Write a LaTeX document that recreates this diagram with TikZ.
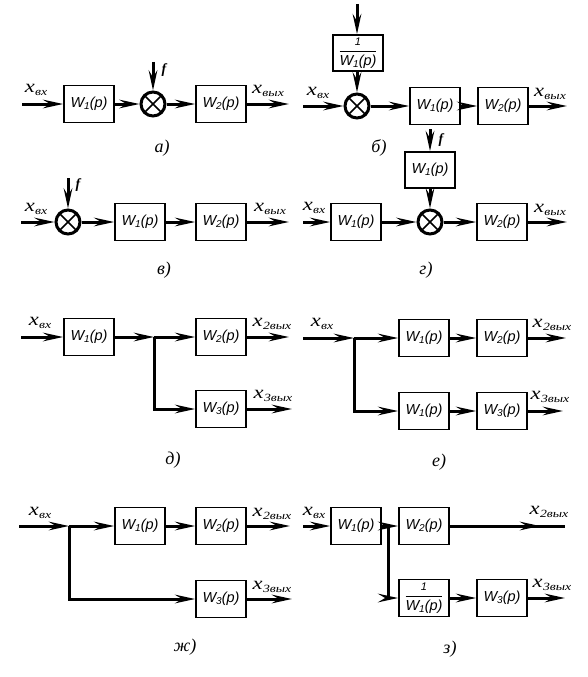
\documentclass[tikz,border=0pt]{standalone}
\usepackage{amsmath}
\usepackage{fontspec}
\setmainfont{Liberation Serif}
\newfontfamily\wfont{Liberation Sans}
\usetikzlibrary{arrows.meta}
\newcommand\xsig[1]{\scalebox{1.25}[1]{\fontsize{18}{18}\selectfont\textit{x}\kern0.3pt\raisebox{-2.5pt}{\fontsize{11}{11}\selectfont\textit{#1}}}}
\newcommand\Wb[1]{{\wfont\itshape W\raisebox{-2pt}{\fontsize{10}{9}\selectfont #1}(p)}}
\newcommand\invW{$\dfrac{\text{\wfont\itshape\fontsize{11}{12}\selectfont 1}}{\text{\Wb{1}}}$}
\tikzset{
  blk/.style={draw, line width=1.6pt, minimum width=50pt, minimum height=37pt, inner sep=0pt, font=\fontsize{14.5}{15}\selectfont},
  sumj/.style={circle, draw, line width=3pt, minimum size=24pt, inner sep=0pt,
    path picture={\draw[line width=1.7pt] (path picture bounding box.north west) -- (path picture bounding box.south east)
      (path picture bounding box.north east) -- (path picture bounding box.south west);}},
  sig/.style={line width=3pt, -{Stealth[length=20pt,width=8.5pt,inset=7pt]}},
  wire/.style={line width=3pt},
  lbl/.style={inner sep=0pt},
  ftxt/.style={inner sep=0pt, font=\fontsize{14}{14}\selectfont\itshape\bfseries},
  captxt/.style={inner sep=0pt, font=\fontsize{18}{18}\selectfont\itshape}
}
\begin{document}
\begin{tikzpicture}[x=1pt,y=-1pt]
\fill[white] (0,0) rectangle (588,677);
\useasboundingbox (0,0) rectangle (588,677);

% ---------- a) ----------
\coordinate (a_in) at (22,104);
\node[lbl] (a_lin) at (36,90) {\xsig{вх}};
\node[blk] (a_w1) at (89,104) {\Wb{1}};
\node[sumj] (a_s) at (153,104) {};
\coordinate (a_f) at (153,62);
\node[ftxt] (a_lf) at (164,70) {f};
\node[blk] (a_w2) at (221,104) {\Wb{2}};
\coordinate (a_out) at (289,104);
\node[lbl] (a_lout) at (268,91) {\xsig{вых}};
\node[captxt] (a_cap) at (162,148) {а)};
\draw[sig] (a_in) -- (a_w1);
\draw[sig] (a_w1) -- (a_s);
\draw[sig] (a_f) -- (a_s);
\draw[sig] (a_s) -- (a_w2);
\draw[sig] (a_w2) -- (a_out);

% ---------- б) ----------
\coordinate (b_in) at (303,106);
\node[lbl] (b_lin) at (318,93) {\xsig{вх}};
\node[sumj] (b_s) at (357,106) {};
\node[blk, minimum height=36pt] (b_inv) at (358,53) {\invW};
\coordinate (b_top) at (357,4);
\node[blk] (b_w1) at (435,106) {\Wb{1}};
\node[blk] (b_w2) at (503,106) {\Wb{2}};
\coordinate (b_out) at (567,106);
\node[lbl] (b_lout) at (550,94) {\xsig{вых}};
\node[captxt] (b_cap) at (379,148) {б)};
\draw[sig] (b_top) -- (b_top|-b_inv.north);
\draw[sig] (b_inv.south-|b_s) -- (b_s);
\draw[sig] (b_in) -- (b_s);
\draw[sig] (b_s) -- (b_w1);
\draw[sig] (b_w1) -- (b_w2);
\draw[sig] (b_w2) -- (b_out);

% ---------- в) ----------
\coordinate (v_in) at (21,222);
\node[lbl] (v_lin) at (36,209) {\xsig{вх}};
\node[sumj] (v_s) at (68,222) {};
\coordinate (v_f) at (68,178);
\node[ftxt] (v_lf) at (78,185) {f};
\node[blk] (v_w1) at (140,222) {\Wb{1}};
\node[blk] (v_w2) at (221,222) {\Wb{2}};
\coordinate (v_out) at (289,222);
\node[lbl] (v_lout) at (270,209) {\xsig{вых}};
\node[captxt] (v_cap) at (164,270) {в)};
\draw[sig] (v_in) -- (v_s);
\draw[sig] (v_f) -- (v_s);
\draw[sig] (v_s) -- (v_w1);
\draw[sig] (v_w1) -- (v_w2);
\draw[sig] (v_w2) -- (v_out);

% ---------- г) ----------
\coordinate (g_f) at (430,129);
\node[ftxt] (g_lf) at (441,140) {f};
\node[blk, minimum height=36pt] (g_w1t) at (430,170) {\Wb{1}};
\coordinate (g_in) at (303,222);
\node[lbl] (g_lin) at (314,208) {\xsig{вх}};
\node[blk] (g_w1) at (356,222) {\Wb{1}};
\node[sumj] (g_s) at (430,222) {};
\node[blk] (g_w2) at (502,222) {\Wb{2}};
\coordinate (g_out) at (567,222);
\node[lbl] (g_lout) at (550,210) {\xsig{вых}};
\node[captxt] (g_cap) at (426,270) {г)};
\draw[sig] (g_f) -- (g_w1t);
\draw[sig] (g_w1t) -- (g_s);
\draw[sig] (g_in) -- (g_w1);
\draw[sig] (g_w1) -- (g_s);
\draw[sig] (g_s) -- (g_w2);
\draw[sig] (g_w2) -- (g_out);

% ---------- д) ----------
\coordinate (d_in) at (21,337);
\node[lbl] (d_lin) at (40,323) {\xsig{вх}};
\node[blk] (d_w1) at (89,337) {\Wb{1}};
\coordinate (d_br) at (154,337);
\node[blk] (d_w2) at (221,337) {\Wb{2}};
\coordinate (d_out) at (289,337);
\node[lbl] (d_lout) at (272,324) {\xsig{2вых}};
\node[blk] (d_w3) at (221,409) {\Wb{3}};
\coordinate (d_out3) at (292,409);
\node[lbl] (d_lout3) at (273,396) {\xsig{3вых}};
\node[captxt] (d_cap) at (173,460) {д)};
\draw[sig] (d_in) -- (d_w1);
\draw[sig] (d_w1) -- (d_br);
\draw[sig] (d_br) -- (d_w2);
\draw[sig] (d_br) |- (d_w3);
\draw[sig] (d_w2) -- (d_out);
\draw[sig] (d_w3) -- (d_out3);

% ---------- е) ----------
\coordinate (e_in) at (303,338);
\node[lbl] (e_lin) at (322,324) {\xsig{вх}};
\coordinate (e_br) at (354,338);
\node[blk] (e_w1a) at (424,338) {\Wb{1}};
\node[blk] (e_w2) at (502,338) {\Wb{2}};
\coordinate (e_out) at (566,338);
\node[lbl] (e_lout) at (552,325) {\xsig{2вых}};
\node[blk] (e_w1b) at (424,411) {\Wb{1}};
\node[blk] (e_w3) at (502,411) {\Wb{3}};
\coordinate (e_out3) at (563,411);
\node[lbl] (e_lout3) at (550,397) {\xsig{3вых}};
\node[captxt] (e_cap) at (439,462) {е)};
\draw[sig] (e_in) -- (e_br);
\draw[sig] (e_br) -- (e_w1a);
\draw[sig] (e_br) |- (e_w1b);
\draw[sig] (e_w1a) -- (e_w2);
\draw[sig] (e_w1b) -- (e_w3);
\draw[sig] (e_w2) -- (e_out);
\draw[sig] (e_w3) -- (e_out3);

% ---------- ж) ----------
\coordinate (zh_in) at (19,526);
\node[lbl] (zh_lin) at (40,513) {\xsig{вх}};
\coordinate (zh_br) at (69,526);
\node[blk] (zh_w1) at (140,526) {\Wb{1}};
\node[blk] (zh_w2) at (221,526) {\Wb{2}};
\coordinate (zh_out) at (290,526);
\node[lbl] (zh_lout) at (272,514) {\xsig{2вых}};
\node[blk] (zh_w3) at (221,599) {\Wb{3}};
\coordinate (zh_out3) at (292,599);
\node[lbl] (zh_lout3) at (272,587) {\xsig{3вых}};
\node[captxt] (zh_cap) at (185,647) {ж)};
\draw[sig] (zh_in) -- (zh_br);
\draw[sig] (zh_br) -- (zh_w1);
\draw[sig] (zh_br) |- (zh_w3);
\draw[sig] (zh_w1) -- (zh_w2);
\draw[sig] (zh_w2) -- (zh_out);
\draw[sig] (zh_w3) -- (zh_out3);

% ---------- з) ----------
\coordinate (z_in) at (303,526);
\node[lbl] (z_lin) at (314,513) {\xsig{вх}};
\node[blk] (z_w1) at (356,526) {\Wb{1}};
\coordinate (z_br) at (388,526);
\node[blk] (z_w2) at (424,526) {\Wb{2}};
\coordinate (z_mid) at (540,526);
\coordinate (z_out) at (565,526);
\node[lbl] (z_lout) at (549,512) {\xsig{2вых}};
\node[blk] (z_inv) at (424,598) {\invW};
\node[blk] (z_w3) at (502,598) {\Wb{3}};
\coordinate (z_out3) at (565,598);
\node[lbl] (z_lout3) at (552,585) {\xsig{3вых}};
\node[captxt] (z_cap) at (450,649) {з)};
\draw[sig] (z_in) -- (z_w1);
\draw[sig] (z_w1) -- (z_w2);
\draw[sig] (z_br) |- (z_inv);
\draw[wire] (z_w2) -- (z_out);
\draw[sig] (z_w2) -- (z_mid);
\draw[sig] (z_inv) -- (z_w3);
\draw[sig] (z_w3) -- (z_out3);
\end{tikzpicture}
\end{document}
